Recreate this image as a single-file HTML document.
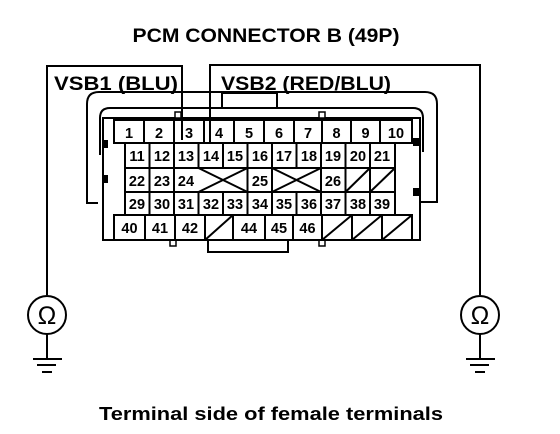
<!DOCTYPE html>
<html><head><meta charset="utf-8"><style>
html,body{margin:0;padding:0;background:#fff;}
svg{display:block;}
text{font-family:"Liberation Sans",sans-serif;font-weight:bold;fill:#000;}
</style></head><body>
<svg width="560" height="434" viewBox="0 0 560 434" xmlns="http://www.w3.org/2000/svg">
<text x="266" y="42" font-size="19" text-anchor="middle" textLength="267" lengthAdjust="spacingAndGlyphs">PCM CONNECTOR B (49P)</text>
<text x="54" y="90" font-size="19" textLength="124" lengthAdjust="spacingAndGlyphs">VSB1 (BLU)</text>
<text x="221" y="90" font-size="19" textLength="170" lengthAdjust="spacingAndGlyphs">VSB2 (RED/BLU)</text>
<g fill="none" stroke="#000" stroke-width="2">
<polyline points="47,295 47,66 182,66 182,140"/>
<polyline points="210,144 210,65 480,65 480,295"/>
<path d="M98,203 L87,203 L87,104 Q87,92 99,92 L425,92 Q437,92 437,104 L437,202 L421,202"/>
<path d="M100,155 L100,118 Q100,108 110,108 L413,108 Q423,108 423,118 L423,152"/>
<rect x="222" y="93" width="55" height="15"/>
<rect x="103" y="118" width="317" height="122"/>
<polyline points="208,240 208,252 288,252 288,240"/>
</g>
<g fill="#000">
<rect x="102" y="140" width="6" height="8"/><rect x="102" y="175" width="6" height="8"/>
<rect x="413" y="138" width="6" height="8"/><rect x="413" y="188" width="6" height="8"/>
</g>
<g fill="#fff" stroke="#000" stroke-width="1.5">
<rect x="175" y="112" width="6" height="6"/><rect x="319" y="112" width="6" height="6"/>
<rect x="170" y="240" width="6" height="6"/><rect x="319" y="240" width="6" height="6"/>
</g>
<g fill="none" stroke="#000" stroke-width="2">
<rect x="114" y="120" width="298" height="23"/>
<path d="M144,120V143M174,120V143M204,120V143M234,120V143M264,120V143M294,120V143M322,120V143M351,120V143M380,120V143"/>
<rect x="125" y="143" width="270" height="72"/>
<path d="M125,168H395M125,192H395"/>
<path d="M149.5,143V215M174,143V215M198.5,143V168M223,143V168M247.5,143V215M272,143V215M296.5,143V168M321,143V215M345.5,143V215M370,143V215"/>
<path d="M198.5,192V215M223,192V215M296.5,192V215"/>
<path d="M198.5,168L247.5,192M198.5,192L247.5,168M272,168L321,192M272,192L321,168"/>
<path d="M345.5,192L370,168M370,192L395,168"/>
<rect x="114" y="215" width="298" height="25"/>
<path d="M145,215V240M175,215V240M205,215V240M233,215V240M265,215V240M293,215V240M322,215V240M352,215V240M382,215V240"/>
<path d="M205,240L233,215M322,240L352,215M352,240L382,215M382,240L412,215"/>
</g>
<g font-size="14.5" text-anchor="middle">
<text x="129" y="138">1</text><text x="159" y="138">2</text><text x="189" y="138">3</text><text x="219" y="138">4</text><text x="249" y="138">5</text><text x="279" y="138">6</text><text x="308" y="138">7</text><text x="336.5" y="138">8</text><text x="365.5" y="138">9</text><text x="396" y="138">10</text>
<text x="137" y="161">11</text><text x="162" y="161">12</text><text x="186" y="161">13</text><text x="211" y="161">14</text><text x="235" y="161">15</text><text x="260" y="161">16</text><text x="284" y="161">17</text><text x="309" y="161">18</text><text x="333" y="161">19</text><text x="358" y="161">20</text><text x="382" y="161">21</text>
<text x="137" y="186">22</text><text x="162" y="186">23</text><text x="186" y="186">24</text><text x="260" y="186">25</text><text x="333" y="186">26</text>
<text x="137" y="209">29</text><text x="162" y="209">30</text><text x="186" y="209">31</text><text x="211" y="209">32</text><text x="235" y="209">33</text><text x="260" y="209">34</text><text x="284" y="209">35</text><text x="309" y="209">36</text><text x="333" y="209">37</text><text x="358" y="209">38</text><text x="382" y="209">39</text>
<text x="129.5" y="233">40</text><text x="160" y="233">41</text><text x="190" y="233">42</text><text x="249" y="233">44</text><text x="279" y="233">45</text><text x="307.5" y="233">46</text>
</g>
<g fill="none" stroke="#000" stroke-width="2">
<circle cx="47" cy="315" r="19"/><circle cx="480" cy="315" r="19"/>
<path d="M47,334V359M33,359H62M37,365H56M42,372H52"/>
<path d="M480,334V359M466,359H495M470,365H489M475,372H485"/>
</g>
<text x="47" y="324" font-size="25" text-anchor="middle" style="font-weight:normal">Ω</text>
<text x="480" y="324" font-size="25" text-anchor="middle" style="font-weight:normal">Ω</text>
<text x="271" y="420" font-size="18" text-anchor="middle" textLength="344" lengthAdjust="spacingAndGlyphs">Terminal side of female terminals</text>
</svg>
</body></html>
